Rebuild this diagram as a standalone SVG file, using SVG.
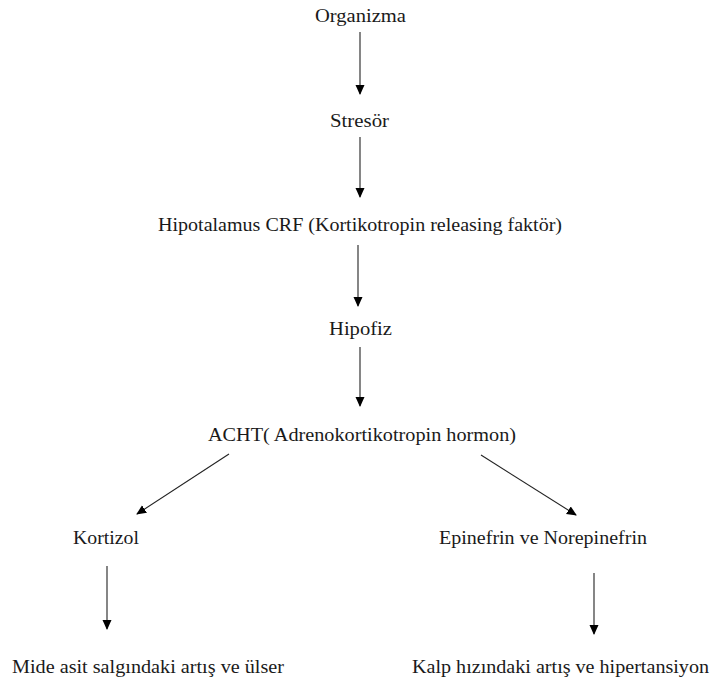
<svg xmlns="http://www.w3.org/2000/svg" width="711" height="682" viewBox="0 0 711 682">
<defs>
<marker id="ah" markerWidth="10" markerHeight="10" refX="9" refY="5" orient="auto" markerUnits="userSpaceOnUse">
<path d="M0,0.5 L10,5 L0,9.5 Z" fill="#000"/>
</marker>
<style>
.t{font-family:"Liberation Serif","Times New Roman",serif;font-size:18px;fill:#1a1a1a;text-anchor:middle}
.c{stroke:#222;stroke-width:1.1;fill:none;marker-end:url(#ah)}
</style>
</defs>
<rect width="711" height="682" fill="#fff"/>
<g id="connectors">
<line class="c" x1="360" y1="32" x2="360" y2="94"/>
<line class="c" x1="360" y1="137" x2="360" y2="197"/>
<line class="c" x1="358" y1="245" x2="358" y2="306"/>
<line class="c" x1="360" y1="347" x2="360" y2="406"/>
<line class="c" x1="229" y1="454" x2="137" y2="514"/>
<line class="c" x1="481" y1="455" x2="576" y2="515"/>
<line class="c" x1="107" y1="566" x2="107" y2="629"/>
<line class="c" x1="594" y1="573" x2="594" y2="634"/>
</g>
<g id="organizma"><text class="t" x="360.5" y="22" textLength="91" lengthAdjust="spacingAndGlyphs">Organizma</text></g>
<g id="stresor"><text class="t" x="359.5" y="127" textLength="59" lengthAdjust="spacingAndGlyphs">Stresör</text></g>
<g id="hipotalamus"><text class="t" x="360" y="231" textLength="404" lengthAdjust="spacingAndGlyphs">Hipotalamus CRF (Kortikotropin releasing faktör)</text></g>
<g id="hipofiz"><text class="t" x="360.5" y="335" textLength="63" lengthAdjust="spacingAndGlyphs">Hipofiz</text></g>
<g id="acht"><text class="t" x="362" y="441" textLength="308" lengthAdjust="spacingAndGlyphs">ACHT( Adrenokortikotropin hormon)</text></g>
<g id="kortizol"><text class="t" x="106" y="544" textLength="66" lengthAdjust="spacingAndGlyphs">Kortizol</text></g>
<g id="epinefrin"><text class="t" x="543" y="544" textLength="208" lengthAdjust="spacingAndGlyphs">Epinefrin ve Norepinefrin</text></g>
<g id="mide"><text class="t" x="148" y="673" textLength="272" lengthAdjust="spacingAndGlyphs">Mide asit salgındaki artış ve ülser</text></g>
<g id="kalp"><text class="t" x="560.5" y="673" textLength="297" lengthAdjust="spacingAndGlyphs">Kalp hızındaki artış ve hipertansiyon</text></g>
</svg>
